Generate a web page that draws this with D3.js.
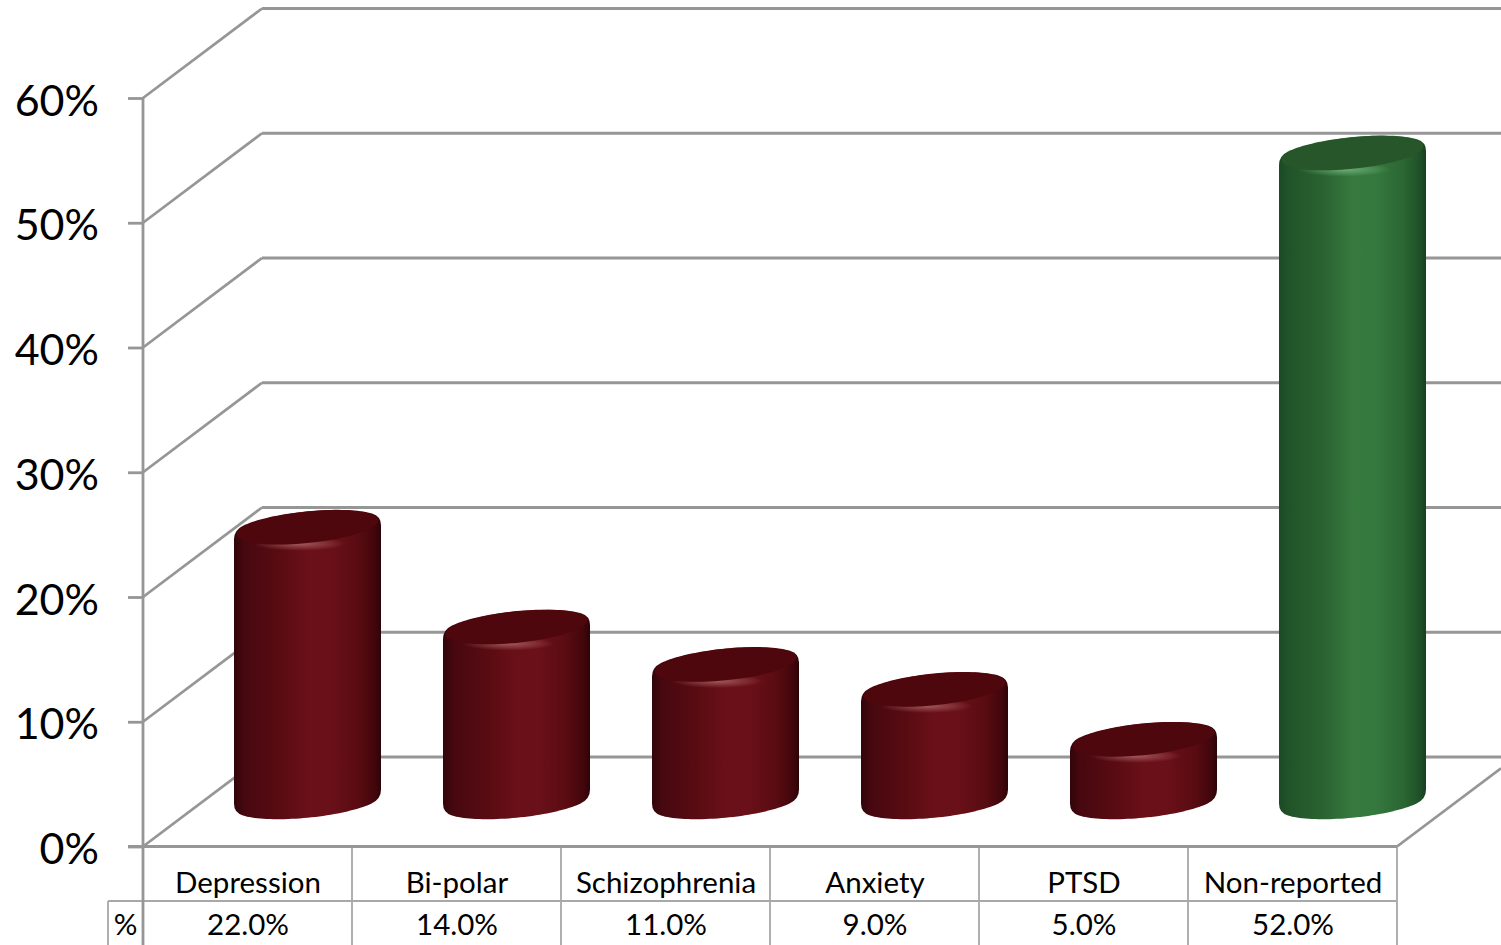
<!DOCTYPE html>
<html>
<head>
<meta charset="utf-8">
<script src="https://cdn.jsdelivr.net/npm/d3@7"></script>
<style>
  html, body { margin: 0; padding: 0; background: #fff; overflow: hidden; }
  svg { display: block; }
  text { font-family: Lato, "Open Sans", sans-serif; fill: #000; }
</style>
</head>
<body>
<svg id="chart" width="1501" height="945"></svg>
<script>
// Chart values
const categories = ["Depression", "Bi-polar", "Schizophrenia", "Anxiety", "PTSD", "Non-reported"];
const percentages = [22, 14, 11, 9, 5, 52];
const highlighted = ["Non-reported"];
const yTicks = [0, 10, 20, 30, 40, 50, 60];
const rowHeader = "%";

// Frame of the 3D box
const width = 1501, height = 945;
const frontLeft = 143, frontRight = 1397;
const depthX = 119, depthY = 89.5;
const gridColor = "#969696", tableColor = "#a8a8a8";
const gridWidth = 2.8;

const svg = d3.select("#chart");
const x = d3.scaleBand().domain(categories).range([frontLeft, frontRight]);
const y = d3.scaleLinear().domain([0, 60]).range([846.5, 98]);

// Horizontal shading across a cylinder body
const palettes = {
  red: {
    body: [[0, "#31050a"], [0.07, "#470810"], [0.3, "#590b12"], [0.5, "#6a1018"], [0.66, "#6a1018"],
           [0.85, "#590b12"], [0.96, "#40060b"], [1, "#2c0406"]],
    face: "#4e070c", glow: "#c88a8a"
  },
  green: {
    body: [[0, "#1b4a25"], [0.07, "#215429"], [0.3, "#2a6331"], [0.5, "#367a3f"], [0.66, "#35783e"],
           [0.85, "#2a6632"], [0.96, "#1f4f28"], [1, "#173f20"]],
    face: "#27562a", glow: "#8fcf98"
  }
};
const defs = svg.append("defs");
Object.entries(palettes).forEach(([name, p]) => {
  defs.append("linearGradient").attr("id", `body-${name}`)
    .selectAll("stop").data(p.body).join("stop")
    .attr("offset", d => d[0]).attr("stop-color", d => d[1]);
  const glow = defs.append("radialGradient").attr("id", `glow-${name}`);
  glow.append("stop").attr("offset", 0).attr("stop-color", p.glow).attr("stop-opacity", 0.6);
  glow.append("stop").attr("offset", 1).attr("stop-color", p.glow).attr("stop-opacity", 0);
});

// Back wall and side wall gridlines sit behind the cylinders
const grid = svg.append("g").attr("stroke", gridColor).attr("stroke-width", gridWidth).attr("fill", "none");
grid.selectAll("line.back").data(yTicks).join("line").attr("class", "back")
  .attr("x1", frontLeft + depthX).attr("x2", width)
  .attr("y1", d => y(d) - depthY).attr("y2", d => y(d) - depthY);
grid.selectAll("line.side").data(yTicks).join("line").attr("class", "side")
  .attr("x1", frontLeft).attr("x2", frontLeft + depthX)
  .attr("y1", d => y(d)).attr("y2", d => y(d) - depthY);
// Right edge of the floor
grid.append("line")
  .attr("x1", frontRight).attr("y1", y(0))
  .attr("x2", width).attr("y2", y(0) - depthY * (width - frontRight) / depthX);

// Cap ellipse of a cylinder, sheared so it tilts up to the right
const sideHalf = 73.5, capA = 73.5, capB = 16, capShear = 7;
const capPoint = (t, a, b) => [a * Math.cos(t), b * Math.sin(t) - capShear * Math.cos(t)];
const capTangent = t => [-capA * Math.sin(t), capB * Math.cos(t) + capShear * Math.sin(t)];
const corner = 0.5;
const sweep = (from, to) => d3.range(0, 41).map(i => from + (to - from) * i / 40);

// Height on the vertical side where the cap's tangent at angle t meets it
function shoulder(t, sideX) {
  const [px, py] = capPoint(t, capA, capB);
  const [dx, dy] = capTangent(t);
  return py + dy * (sideX - px) / dx;
}

// Body outline: rounded shoulders join the vertical sides to both caps
function bodyPath(topY, baseY) {
  const p = d3.path();
  const drop = 9;
  const tl = Math.PI + corner, tr = 2 * Math.PI - corner, br = corner, bl = Math.PI - corner;
  p.moveTo(-sideHalf, topY + shoulder(tl, -sideHalf) + drop);
  sweep(tl, tr).forEach((t, i) => {
    const [px, py] = capPoint(t, capA, capB);
    if (i === 0) p.quadraticCurveTo(-sideHalf, topY + shoulder(tl, -sideHalf), px, topY + py);
    else p.lineTo(px, topY + py);
  });
  p.quadraticCurveTo(sideHalf, topY + shoulder(tr, sideHalf), sideHalf, topY + shoulder(tr, sideHalf) + drop);
  p.lineTo(sideHalf, baseY + shoulder(br, sideHalf) - drop);
  sweep(br, bl).forEach((t, i) => {
    const [px, py] = capPoint(t, capA, capB);
    if (i === 0) p.quadraticCurveTo(sideHalf, baseY + shoulder(br, sideHalf), px, baseY + py);
    else p.lineTo(px, baseY + py);
  });
  p.quadraticCurveTo(-sideHalf, baseY + shoulder(bl, -sideHalf), -sideHalf, baseY + shoulder(bl, -sideHalf) - drop);
  p.closePath();
  return p.toString();
}
const facePath = d3.line();

// Cylinders, one per category, standing halfway into the box
const bars = svg.append("g").selectAll("g")
  .data(categories.map((c, i) => ({ c, v: percentages[i] })))
  .join("g")
  .attr("transform", d => `translate(${x(d.c) + x.bandwidth() / 2 + depthX / 2 + 0.5},0)`);

bars.each(function (d, i) {
  const g = d3.select(this);
  const name = highlighted.includes(d.c) ? "green" : "red";
  const topY = y(d.v) - depthY / 2;
  const baseY = y(0) - depthY / 2;
  const outline = bodyPath(topY, baseY);

  g.append("clipPath").attr("id", `clip-${i}`).append("path").attr("d", outline);
  g.append("path").attr("d", outline).attr("fill", `url(#body-${name})`);

  // Soft highlight on the rim below the cap
  g.append("ellipse").attr("clip-path", `url(#clip-${i})`)
    .attr("cx", -8).attr("cy", topY + 16.5).attr("rx", 46).attr("ry", 7)
    .attr("fill", `url(#glow-${name})`);

  const face = sweep(0, 2 * Math.PI).map(t => capPoint(t, capA - 2.5, capB - 0.2)).map(p => [p[0], p[1] + topY]);
  g.append("path").attr("d", facePath(face) + "Z").attr("fill", palettes[name].face);
});

// Value axis on the front edge
const axis = svg.append("g").attr("transform", `translate(${frontLeft},0)`)
  .call(d3.axisLeft(y).tickValues(yTicks).tickSize(15).tickPadding(29).tickFormat(d => d + "%"));
axis.select(".domain").remove();
axis.selectAll(".tick line").attr("stroke", gridColor).attr("stroke-width", gridWidth);
axis.selectAll(".tick text").attr("font-size", 43).attr("dy", "0.4em")
  .style("font-family", "Lato, 'Open Sans', sans-serif");
axis.attr("font-family", null).attr("font-size", null);

// Data table rules
const table = svg.append("g").attr("stroke", tableColor).attr("stroke-width", 1.8);
const rowSplit = 901, headerLeft = 108;
table.selectAll("line.col").data(categories.slice(1)).join("line").attr("class", "col")
  .attr("x1", d => x(d)).attr("x2", d => x(d)).attr("y1", y(0)).attr("y2", height);
table.append("line").attr("x1", frontRight).attr("x2", frontRight).attr("y1", y(0)).attr("y2", height);
table.append("line").attr("x1", headerLeft).attr("x2", frontRight).attr("y1", rowSplit).attr("y2", rowSplit);
table.append("line").attr("x1", headerLeft).attr("x2", headerLeft).attr("y1", rowSplit).attr("y2", height);

// Front vertical and floor edges stay in front of the table rules
const front = svg.append("g").attr("stroke", gridColor).attr("stroke-width", gridWidth);
front.append("line").attr("x1", frontLeft).attr("x2", frontLeft).attr("y1", y(60)).attr("y2", height);
front.append("line").attr("x1", frontLeft - 15).attr("x2", frontRight).attr("y1", y(0)).attr("y2", y(0));

// Data table text
const center = d => x(d) + x.bandwidth() / 2 + 0.5;
svg.append("g").selectAll("text").data(categories).join("text")
  .attr("x", center).attr("y", 892.5).attr("text-anchor", "middle").attr("font-size", 29.5).text(d => d);
svg.append("g").selectAll("text").data(percentages).join("text")
  .attr("x", (d, i) => center(categories[i])).attr("y", 934.5).attr("text-anchor", "middle").attr("font-size", 29.5)
  .text(d => d3.format(".1%")(d / 100));
svg.append("text").attr("x", (headerLeft + frontLeft) / 2).attr("y", 934.5)
  .attr("text-anchor", "middle").attr("font-size", 29.5).text(rowHeader);
</script>
</body>
</html>
